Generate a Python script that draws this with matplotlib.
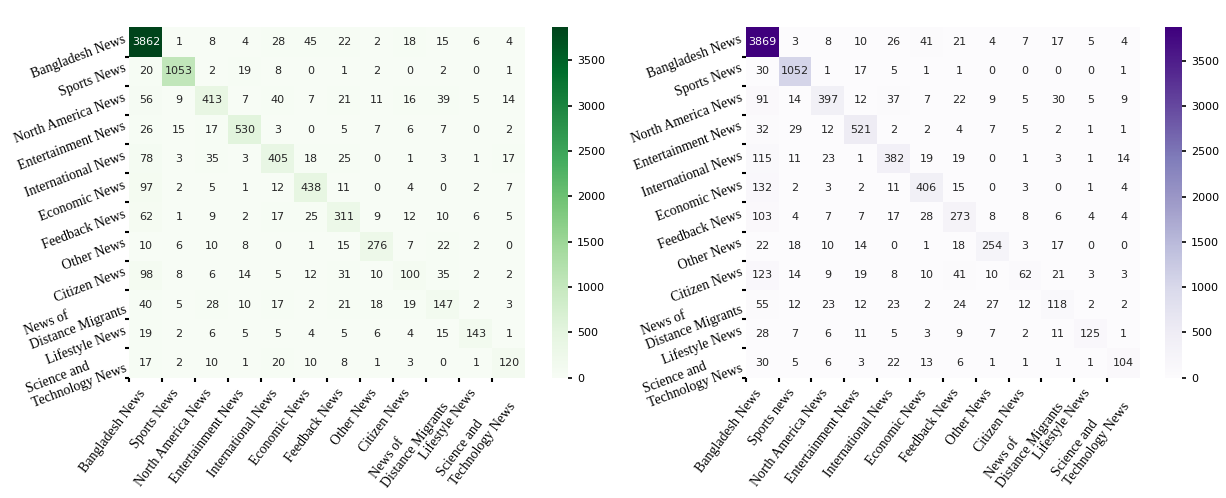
import numpy as np
import matplotlib
matplotlib.use("Agg")
import matplotlib.pyplot as plt
from matplotlib.transforms import ScaledTranslation
import seaborn as sns

labels = ["Bangladesh News", "Sports News", "North America News",
          "Entertainment News", "International News", "Economic News",
          "Feedback News", "Other News", "Citizen News",
          "News of\nDistance Migrants", "Lifestyle News",
          "Science and\nTechnology News"]
labels_x2 = ["Bangladesh News", "Sports news", "North America News",
             "Entertainment News", "International News", "Economic News",
             "Feedback News", "Other News", "Citizen News",
             "News of\nDistance Migrants", "Lifestyle News",
             "Science and\nTechnology News"]

cm_left = np.array([
    [3862, 1, 8, 4, 28, 45, 22, 2, 18, 15, 6, 4],
    [20, 1053, 2, 19, 8, 0, 1, 2, 0, 2, 0, 1],
    [56, 9, 413, 7, 40, 7, 21, 11, 16, 39, 5, 14],
    [26, 15, 17, 530, 3, 0, 5, 7, 6, 7, 0, 2],
    [78, 3, 35, 3, 405, 18, 25, 0, 1, 3, 1, 17],
    [97, 2, 5, 1, 12, 438, 11, 0, 4, 0, 2, 7],
    [62, 1, 9, 2, 17, 25, 311, 9, 12, 10, 6, 5],
    [10, 6, 10, 8, 0, 1, 15, 276, 7, 22, 2, 0],
    [98, 8, 6, 14, 5, 12, 31, 10, 100, 35, 2, 2],
    [40, 5, 28, 10, 17, 2, 21, 18, 19, 147, 2, 3],
    [19, 2, 6, 5, 5, 4, 5, 6, 4, 15, 143, 1],
    [17, 2, 10, 1, 20, 10, 8, 1, 3, 0, 1, 120],
])

cm_right = np.array([
    [3869, 3, 8, 10, 26, 41, 21, 4, 7, 17, 5, 4],
    [30, 1052, 1, 17, 5, 1, 1, 0, 0, 0, 0, 1],
    [91, 14, 397, 12, 37, 7, 22, 9, 5, 30, 5, 9],
    [32, 29, 12, 521, 2, 2, 4, 7, 5, 2, 1, 1],
    [115, 11, 23, 1, 382, 19, 19, 0, 1, 3, 1, 14],
    [132, 2, 3, 2, 11, 406, 15, 0, 3, 0, 1, 4],
    [103, 4, 7, 7, 17, 28, 273, 8, 8, 6, 4, 4],
    [22, 18, 10, 14, 0, 1, 18, 254, 3, 17, 0, 0],
    [123, 14, 9, 19, 8, 10, 41, 10, 62, 21, 3, 3],
    [55, 12, 23, 12, 23, 2, 24, 27, 12, 118, 2, 2],
    [28, 7, 6, 11, 5, 3, 9, 7, 2, 11, 125, 1],
    [30, 5, 6, 3, 22, 13, 6, 1, 1, 1, 1, 104],
])

fig = plt.figure(figsize=(12.26, 4.98), dpi=100)
ax1 = fig.add_axes([0.1056, 0.2418, 0.3230, 0.7032])
cb1 = fig.add_axes([0.4502, 0.2418, 0.0131, 0.7032])
ax2 = fig.add_axes([0.6082, 0.2418, 0.3217, 0.7032])
cb2 = fig.add_axes([0.9502, 0.2418, 0.0139, 0.7032])

n = len(labels)

for ax, cax, cm, cmap, xl in [(ax1, cb1, cm_left, "Greens", labels),
                              (ax2, cb2, cm_right, "Purples", labels_x2)]:
    sns.heatmap(cm, annot=True, fmt="d", cmap=cmap, ax=ax, cbar_ax=cax,
                vmin=0, annot_kws={"fontsize": 8})
    # labels at the cell centres, tick marks on the cell edges
    ax.set_xticks(np.arange(n) + 0.5)
    ax.set_xticklabels(xl, rotation=53, ha="right", va="baseline",
                       rotation_mode="anchor", multialignment="left",
                       family="Liberation Serif", fontsize=10)
    ax.set_yticks(np.arange(n) + 0.5)
    ax.set_yticklabels(labels, rotation=21, ha="right", va="baseline",
                       rotation_mode="anchor", multialignment="left",
                       family="Liberation Serif", fontsize=10)
    ax.tick_params(axis="x", which="major", length=0, pad=11)
    ax.tick_params(axis="y", which="major", length=0, pad=2)
    ax.set_xticks(np.arange(n), minor=True)
    ax.set_yticks(np.arange(n) + 1, minor=True)
    ax.tick_params(which="minor", length=3, width=1.5, color="black")
    cax.set_yticks([0, 500, 1000, 1500, 2000, 2500, 3000, 3500])
    cax.tick_params(labelsize=8, length=3, width=1.2)

    # two-line labels sit a little further out
    for lab in ax.get_xticklabels():
        if "\n" in lab.get_text():
            lab.set_transform(lab.get_transform() +
                              ScaledTranslation(0.05, -0.12, fig.dpi_scale_trans))
    for lab in ax.get_yticklabels():
        if "\n" in lab.get_text():
            lab.set_transform(lab.get_transform() +
                              ScaledTranslation(0, -0.06, fig.dpi_scale_trans))

fig.savefig("out.png", dpi=100)
